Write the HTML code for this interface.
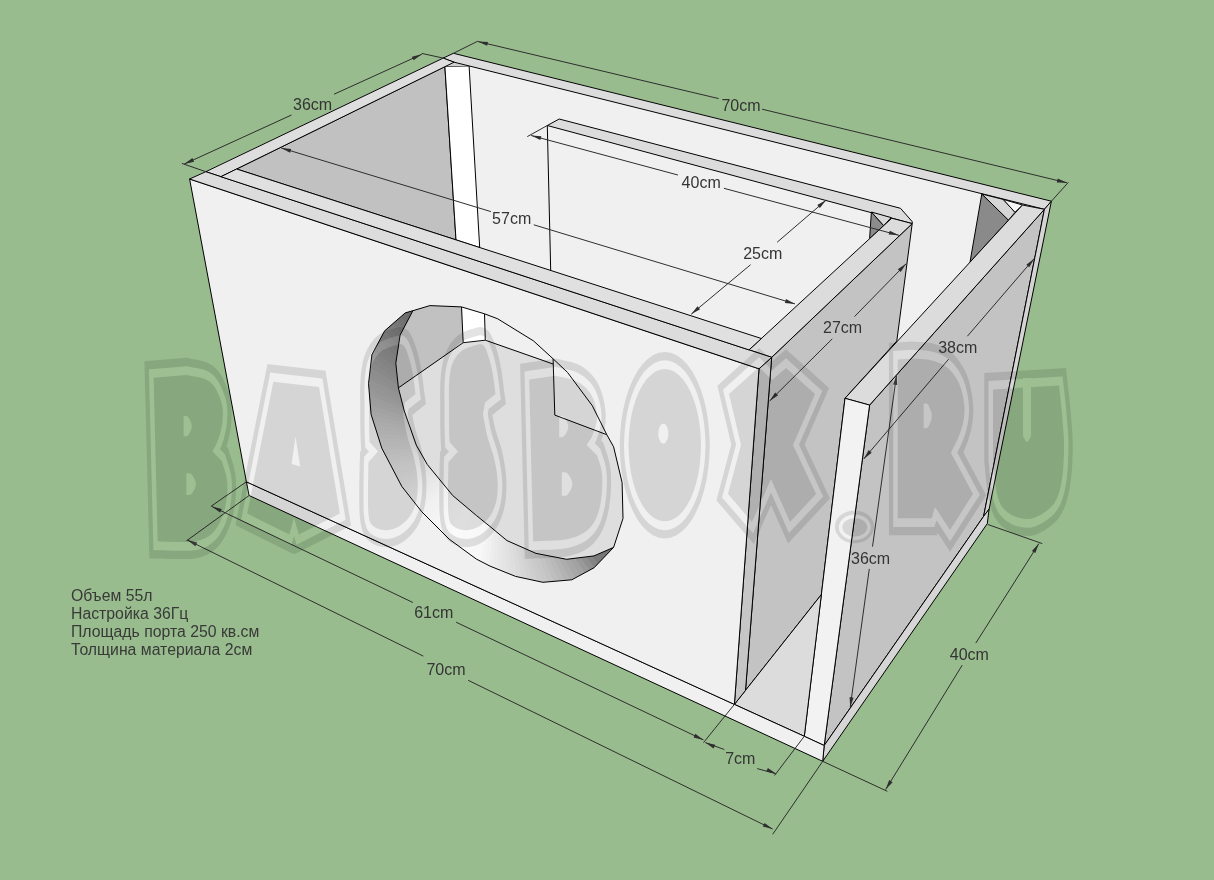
<!DOCTYPE html><html><head><meta charset="utf-8"><style>html,body{margin:0;padding:0;background:#98bc8d;}svg{display:block}</style></head><body>
<svg width="1214" height="880" viewBox="0 0 1214 880">
<rect width="1214" height="880" fill="#98bc8d"/>
<polygon points="443.2,58.1 453.4,53.3 1051.4,201.2 1044.4,209.3 869.6,405.1 759.0,368.8 189.6,179.0" fill="#f0f0f0"  />
<polygon points="236.6,169.0 444.9,66.6 456.0,239.9" fill="#c1c1c1" stroke="#000" stroke-width="1.0" stroke-linejoin="round" />
<polygon points="444.9,66.6 469.1,65.9 479.7,247.6 456.0,239.9" fill="#ffffff" stroke="#000" stroke-width="1.0" stroke-linejoin="round" />
<polygon points="444.9,66.6 452.5,62.0 469.1,65.9" fill="#cfcfcf"  />
<polygon points="443.2,58.1 453.4,53.3 1051.4,201.2 1044.4,209.3 454.1,62.2" fill="#dcdcdc" stroke="#000" stroke-width="1.0" stroke-linejoin="round" />
<polygon points="205.8,171.7 443.2,58.1 454.1,62.2 220.9,176.7" fill="#dedede" stroke="#000" stroke-width="1.0" stroke-linejoin="round" />
<polygon points="547.3,125.5 559.2,119.0 900.5,208.3 912.2,221.6 912.2,223.6 891.8,218.2" fill="#dcdcdc" stroke="#000" stroke-width="1.0" stroke-linejoin="round" />
<line x1="547.3" y1="125.5" x2="550.7" y2="270.6" stroke="#000" stroke-width="1.0"/>
<polygon points="871.4,212.0 883.7,225.6 869.6,238.6" fill="#8c8c8c" stroke="#000" stroke-width="1.0" stroke-linejoin="round" />
<polygon points="871.4,212.0 891.2,217.6 883.7,225.6" fill="#d8d8d8" stroke="#000" stroke-width="1.0" stroke-linejoin="round" />
<polygon points="981.8,194.0 1008.5,220.2 970.0,262.2" fill="#8a8a8a" stroke="#000" stroke-width="1.0" stroke-linejoin="round" />
<polygon points="981.8,194.0 1003.2,199.4 1015.0,212.3 1008.5,220.2" fill="#d6d6d6" stroke="#000" stroke-width="1.0" stroke-linejoin="round" />
<polygon points="1003.2,199.4 1022.5,205.0 1015.0,212.3" fill="#f6f6f6" stroke="#000" stroke-width="1.0" stroke-linejoin="round" />
<polygon points="771.7,357.3 912.2,223.6 896.8,341.0 845.0,398.3 821.4,594.5 745.5,690.4" fill="#c3c3c3" stroke="#000" stroke-width="1.0" stroke-linejoin="round" />
<polygon points="749.0,349.9 891.8,218.2 912.2,223.6 771.7,357.3" fill="#dcdcdc" stroke="#000" stroke-width="1.0" stroke-linejoin="round" />
<polygon points="869.6,405.1 1044.4,209.3 983.6,516.4 824.2,745.5" fill="#c3c3c3" stroke="#000" stroke-width="1.0" stroke-linejoin="round" />
<polygon points="1044.4,209.3 1051.4,201.2 989.1,509.1 983.6,516.4" fill="#d4d4d4" stroke="#000" stroke-width="1.0" stroke-linejoin="round" />
<polygon points="983.6,516.4 989.1,509.1 987.3,523.6 822.7,761.3 824.2,745.5" fill="#d6d6d6" stroke="#000" stroke-width="1.0" stroke-linejoin="round" />
<polygon points="1022.5,205.0 1044.4,209.3 869.6,405.1 845.0,398.3" fill="#dcdcdc" stroke="#000" stroke-width="1.0" stroke-linejoin="round" />
<polygon points="845.0,398.3 869.6,405.1 824.2,745.5 804.3,736.3" fill="#f2f2f2" stroke="#000" stroke-width="1.0" stroke-linejoin="round" />
<polygon points="734.4,704.4 821.4,594.5 804.3,736.3" fill="#dcdcdc" stroke="#000" stroke-width="1.0" stroke-linejoin="round" />
<polygon points="759.0,368.8 771.7,357.3 745.5,690.4 734.4,704.4" fill="#c6c6c6" stroke="#000" stroke-width="1.0" stroke-linejoin="round" />
<polygon points="246.4,481.8 804.3,736.3 824.2,745.5 822.7,761.3 249.1,495.5" fill="#f0f0f0" stroke="#000" stroke-width="1.0" stroke-linejoin="round" />
<polygon points="189.6,179.0 759.0,368.8 734.4,704.4 246.4,481.8" fill="#f0f0f0" stroke="#000" stroke-width="1.0" stroke-linejoin="round" />
<polygon points="189.6,179.0 205.8,171.7 771.7,357.3 759.0,368.8" fill="#dcdcdc" stroke="#000" stroke-width="1.0" stroke-linejoin="round" />
<polygon points="220.9,176.7 236.6,169.0 761.4,338.5 749.0,349.9" fill="#e0e0e0" stroke="#000" stroke-width="1.0" stroke-linejoin="round" />
<defs><clipPath id="hc"><polygon points="429.9,305.6 461.5,306.9 484.5,313.8 497.7,318.8 533.5,340.9 553.1,358.8 567.6,372.5 592.3,405.7 606.8,434.7 613.6,446.8 622.1,482.6 623.0,518.4 613.6,547.4 594.0,567.8 571.8,579.8 542.8,582.3 515.6,576.4 490.0,566.1 476.4,559.1 449.1,539.1 421.8,511.8 401.8,486.4 381.8,448.2 371.1,414.4 368.5,383.7 371.9,354.7 384.7,330.8 405.2,312.9 412.9,310.7"/></clipPath>
</defs>
<g clip-path="url(#hc)">
<rect x="360" y="300" width="270" height="290" fill="#dedede"/>
<polygon points="360.0,290.0 461.5,290.0 463.2,342.7 398.4,387.9 360.0,400.0" fill="#c1c1c1"  />
<polygon points="484.5,290.0 640.0,290.0 640.0,440.0 606.8,434.7 554.8,415.1 553.1,364.0 485.3,340.2" fill="#f0f0f0"  />
<polygon points="461.5,290.0 484.5,290.0 485.3,340.2 463.2,342.7" fill="#ffffff"  />
<line x1="398.4" y1="387.9" x2="463.2" y2="342.7" stroke="#000" stroke-width="1.0"/>
<line x1="463.2" y1="342.7" x2="485.3" y2="340.2" stroke="#000" stroke-width="1.0"/>
<line x1="485.3" y1="340.2" x2="553.1" y2="364.0" stroke="#000" stroke-width="1.0"/>
<line x1="461.5" y1="306.9" x2="463.2" y2="342.7" stroke="#000" stroke-width="1.0"/>
<line x1="484.5" y1="313.8" x2="485.3" y2="340.2" stroke="#000" stroke-width="1.0"/>
<line x1="553.1" y1="358.8" x2="554.8" y2="415.1" stroke="#000" stroke-width="1.0"/>
<line x1="554.8" y1="415.1" x2="606.8" y2="434.7" stroke="#000" stroke-width="1.0"/>
</g>
<defs><clipPath id="ringc"><polygon points="412.9,310.7 405.2,312.9 384.7,330.8 371.9,354.7 368.5,383.7 371.1,414.4 381.8,448.2 401.8,486.4 421.8,511.8 449.1,539.1 476.4,559.1 490.0,566.1 515.6,576.4 542.8,582.3 571.8,579.8 594.0,567.8 613.6,547.4 613.6,547.4 594.0,555.9 566.7,559.3 536.0,553.4 507.0,540.6 490.0,526.5 476.4,515.5 452.7,495.5 427.3,464.5 416.3,445.1 404.3,411.0 398.4,387.9 395.8,363.2 400.1,335.1 412.9,310.7"/></clipPath></defs>
<g clip-path="url(#ringc)">
<polygon points="497.0,445.0 714.1,588.1 705.7,600.0" fill="#6c6c6c"/>
<polygon points="497.0,445.0 708.9,595.6 700.2,607.2" fill="#6d6d6d"/>
<polygon points="497.0,445.0 703.5,602.9 694.4,614.2" fill="#6f6f6f"/>
<polygon points="497.0,445.0 697.9,610.0 688.4,621.0" fill="#707070"/>
<polygon points="497.0,445.0 692.0,616.9 682.1,627.6" fill="#727272"/>
<polygon points="497.0,445.0 685.9,623.6 675.6,633.9" fill="#757575"/>
<polygon points="497.0,445.0 679.6,630.1 668.9,640.0" fill="#777777"/>
<polygon points="497.0,445.0 673.0,636.4 662.0,645.9" fill="#7a7a7a"/>
<polygon points="497.0,445.0 666.2,642.4 654.9,651.5" fill="#848484"/>
<polygon points="497.0,445.0 659.2,648.2 647.6,656.9" fill="#8f8f8f"/>
<polygon points="497.0,445.0 652.0,653.7 640.1,662.1" fill="#999999"/>
<polygon points="497.0,445.0 644.6,659.0 632.5,666.9" fill="#a2a2a2"/>
<polygon points="497.0,445.0 637.1,664.0 624.6,671.5" fill="#a7a7a7"/>
<polygon points="497.0,445.0 629.4,668.8 616.7,675.8" fill="#adadad"/>
<polygon points="497.0,445.0 621.5,673.3 608.5,679.9" fill="#b3b3b3"/>
<polygon points="497.0,445.0 613.4,677.5 600.3,683.6" fill="#b9b9b9"/>
<polygon points="497.0,445.0 605.2,681.4 591.9,687.1" fill="#bebebe"/>
<polygon points="497.0,445.0 596.9,685.0 583.4,690.2" fill="#c3c3c3"/>
<polygon points="497.0,445.0 588.5,688.4 574.8,693.1" fill="#c7c7c7"/>
<polygon points="497.0,445.0 579.9,691.4 566.0,695.7" fill="#cacaca"/>
<polygon points="497.0,445.0 571.3,694.2 557.3,697.9" fill="#cecece"/>
<polygon points="497.0,445.0 562.5,696.6 548.4,699.9" fill="#d2d2d2"/>
<polygon points="497.0,445.0 553.7,698.7 539.5,701.5" fill="#d6d6d6"/>
<polygon points="497.0,445.0 544.8,700.6 530.5,702.8" fill="#dadada"/>
<polygon points="497.0,445.0 535.9,702.1 521.5,703.8" fill="#dedede"/>
<polygon points="497.0,445.0 526.9,703.3 512.4,704.5" fill="#e1e1e1"/>
<polygon points="497.0,445.0 517.9,704.2 503.4,704.9" fill="#e4e4e4"/>
<polygon points="497.0,445.0 508.8,704.7 494.3,705.0" fill="#e7e7e7"/>
<polygon points="497.0,445.0 499.7,705.0 485.2,704.7" fill="#eaeaea"/>
<polygon points="497.0,445.0 490.6,704.9 476.1,704.2" fill="#ededed"/>
<polygon points="497.0,445.0 481.6,704.5 467.1,703.3" fill="#f1f1f1"/>
<polygon points="497.0,445.0 472.5,703.8 458.1,702.1" fill="#f4f4f4"/>
<polygon points="497.0,445.0 463.5,702.8 449.2,700.6" fill="#f7f7f7"/>
<polygon points="497.0,445.0 454.5,701.5 440.3,698.7" fill="#f8f8f8"/>
<polygon points="497.0,445.0 445.6,699.9 431.5,696.6" fill="#f8f8f8"/>
<polygon points="497.0,445.0 436.7,697.9 422.7,694.2" fill="#f9f9f9"/>
<polygon points="497.0,445.0 428.0,695.7 414.1,691.4" fill="#f9f9f9"/>
<polygon points="497.0,445.0 419.2,693.1 405.5,688.4" fill="#f9f9f9"/>
<polygon points="497.0,445.0 410.6,690.2 397.1,685.0" fill="#f9f9f9"/>
<polygon points="497.0,445.0 402.1,687.1 388.8,681.4" fill="#fafafa"/>
<polygon points="497.0,445.0 393.7,683.6 380.6,677.5" fill="#fafafa"/>
<polygon points="497.0,445.0 385.5,679.9 372.5,673.3" fill="#fafafa"/>
<polygon points="497.0,445.0 377.3,675.8 364.6,668.8" fill="#f9f9f9"/>
<polygon points="497.0,445.0 369.4,671.5 356.9,664.0" fill="#f8f8f8"/>
<polygon points="497.0,445.0 361.5,666.9 349.4,659.0" fill="#f7f7f7"/>
<polygon points="497.0,445.0 353.9,662.1 342.0,653.7" fill="#f6f6f6"/>
<polygon points="497.0,445.0 346.4,656.9 334.8,648.2" fill="#f6f6f6"/>
<polygon points="497.0,445.0 339.1,651.5 327.8,642.4" fill="#f5f5f5"/>
<polygon points="497.0,445.0 332.0,645.9 321.0,636.4" fill="#f4f4f4"/>
<polygon points="497.0,445.0 325.1,640.0 314.4,630.1" fill="#f3f3f3"/>
<polygon points="497.0,445.0 318.4,633.9 308.1,623.6" fill="#f2f2f2"/>
<polygon points="497.0,445.0 311.9,627.6 302.0,616.9" fill="#f1f1f1"/>
<polygon points="497.0,445.0 305.6,621.0 296.1,610.0" fill="#f1f1f1"/>
<polygon points="497.0,445.0 299.6,614.2 290.5,602.9" fill="#f0f0f0"/>
<polygon points="497.0,445.0 293.8,607.2 285.1,595.6" fill="#eeeeee"/>
<polygon points="497.0,445.0 288.3,600.0 279.9,588.1" fill="#ededed"/>
<polygon points="497.0,445.0 283.0,592.6 275.1,580.5" fill="#ebebeb"/>
<polygon points="497.0,445.0 278.0,585.1 270.5,572.6" fill="#eaeaea"/>
<polygon points="497.0,445.0 273.2,577.4 266.2,564.7" fill="#e8e8e8"/>
<polygon points="497.0,445.0 268.7,569.5 262.1,556.5" fill="#e7e7e7"/>
<polygon points="497.0,445.0 264.5,561.4 258.4,548.3" fill="#e5e5e5"/>
<polygon points="497.0,445.0 260.6,553.2 254.9,539.9" fill="#e3e3e3"/>
<polygon points="497.0,445.0 257.0,544.9 251.8,531.4" fill="#e2e2e2"/>
<polygon points="497.0,445.0 253.6,536.5 248.9,522.8" fill="#e0e0e0"/>
<polygon points="497.0,445.0 250.6,527.9 246.3,514.0" fill="#dfdfdf"/>
<polygon points="497.0,445.0 247.8,519.3 244.1,505.3" fill="#dddddd"/>
<polygon points="497.0,445.0 245.4,510.5 242.1,496.4" fill="#dcdcdc"/>
<polygon points="497.0,445.0 243.3,501.7 240.5,487.5" fill="#dadada"/>
<polygon points="497.0,445.0 241.4,492.8 239.2,478.5" fill="#d8d8d8"/>
<polygon points="497.0,445.0 239.9,483.9 238.2,469.5" fill="#d6d6d6"/>
<polygon points="497.0,445.0 238.7,474.9 237.5,460.4" fill="#d3d3d3"/>
<polygon points="497.0,445.0 237.8,465.9 237.1,451.4" fill="#d1d1d1"/>
<polygon points="497.0,445.0 237.3,456.8 237.0,442.3" fill="#cecece"/>
<polygon points="497.0,445.0 237.0,447.7 237.3,433.2" fill="#cccccc"/>
<polygon points="497.0,445.0 237.1,438.6 237.8,424.1" fill="#cacaca"/>
<polygon points="497.0,445.0 237.5,429.6 238.7,415.1" fill="#c7c7c7"/>
<polygon points="497.0,445.0 238.2,420.5 239.9,406.1" fill="#c5c5c5"/>
<polygon points="497.0,445.0 239.2,411.5 241.4,397.2" fill="#c2c2c2"/>
<polygon points="497.0,445.0 240.5,402.5 243.3,388.3" fill="#c0c0c0"/>
<polygon points="497.0,445.0 242.1,393.6 245.4,379.5" fill="#bdbdbd"/>
<polygon points="497.0,445.0 244.1,384.7 247.8,370.7" fill="#b9b9b9"/>
<polygon points="497.0,445.0 246.3,376.0 250.6,362.1" fill="#b6b6b6"/>
<polygon points="497.0,445.0 248.9,367.2 253.6,353.5" fill="#b2b2b2"/>
<polygon points="497.0,445.0 251.8,358.6 257.0,345.1" fill="#afafaf"/>
<polygon points="497.0,445.0 254.9,350.1 260.6,336.8" fill="#ababab"/>
<polygon points="497.0,445.0 258.4,341.7 264.5,328.6" fill="#a8a8a8"/>
<polygon points="497.0,445.0 262.1,333.5 268.7,320.5" fill="#a5a5a5"/>
<polygon points="497.0,445.0 266.2,325.3 273.2,312.6" fill="#a1a1a1"/>
<polygon points="497.0,445.0 270.5,317.4 278.0,304.9" fill="#9e9e9e"/>
<polygon points="497.0,445.0 275.1,309.5 283.0,297.4" fill="#9a9a9a"/>
<polygon points="497.0,445.0 279.9,301.9 288.3,290.0" fill="#969696"/>
<polygon points="497.0,445.0 285.1,294.4 293.8,282.8" fill="#939393"/>
<polygon points="497.0,445.0 290.5,287.1 299.6,275.8" fill="#8f8f8f"/>
<polygon points="497.0,445.0 296.1,280.0 305.6,269.0" fill="#8c8c8c"/>
<polygon points="497.0,445.0 302.0,273.1 311.9,262.4" fill="#888888"/>
<polygon points="497.0,445.0 308.1,266.4 318.4,256.1" fill="#848484"/>
<polygon points="497.0,445.0 314.4,259.9 325.1,250.0" fill="#7f7f7f"/>
<polygon points="497.0,445.0 321.0,253.6 332.0,244.1" fill="#7b7b7b"/>
<polygon points="497.0,445.0 327.8,247.6 339.1,238.5" fill="#767676"/>
<polygon points="497.0,445.0 334.8,241.8 346.4,233.1" fill="#727272"/>
<polygon points="497.0,445.0 342.0,236.3 353.9,227.9" fill="#6d6d6d"/>
<polygon points="497.0,445.0 349.4,231.0 361.5,223.1" fill="#6b6b6b"/>
<polygon points="497.0,445.0 356.9,226.0 369.4,218.5" fill="#6b6b6b"/>
<polygon points="497.0,445.0 364.6,221.2 377.3,214.2" fill="#6a6a6a"/>
<polygon points="497.0,445.0 372.5,216.7 385.5,210.1" fill="#696969"/>
<polygon points="497.0,445.0 380.6,212.5 393.7,206.4" fill="#686868"/>
<polygon points="497.0,445.0 388.8,208.6 402.1,202.9" fill="#676767"/>
<polygon points="497.0,445.0 397.1,205.0 410.6,199.8" fill="#666666"/>
</g>
<polyline points="412.9,310.7 400.1,335.1 395.8,363.2 398.4,387.9 404.3,411.0 416.3,445.1 427.3,464.5 452.7,495.5 476.4,515.5 490.0,526.5 507.0,540.6 536.0,553.4 566.7,559.3 594.0,555.9 613.6,547.4" fill="none" stroke="#000" stroke-width="1.0" stroke-linejoin="round"/>
<polygon points="429.9,305.6 461.5,306.9 484.5,313.8 497.7,318.8 533.5,340.9 553.1,358.8 567.6,372.5 592.3,405.7 606.8,434.7 613.6,446.8 622.1,482.6 623.0,518.4 613.6,547.4 594.0,567.8 571.8,579.8 542.8,582.3 515.6,576.4 490.0,566.1 476.4,559.1 449.1,539.1 421.8,511.8 401.8,486.4 381.8,448.2 371.1,414.4 368.5,383.7 371.9,354.7 384.7,330.8 405.2,312.9 412.9,310.7" fill="none" stroke="#000" stroke-width="1.0" stroke-linejoin="round"/>
<line x1="184.2" y1="164.1" x2="291.5" y2="115.0" stroke="#2e2e2e" stroke-width="1"/>
<line x1="334.1" y1="94.2" x2="421.8" y2="54.3" stroke="#2e2e2e" stroke-width="1"/>
<polygon points="184.2,164.1 194.1,161.7 192.4,158.1" fill="#2e2e2e"/>
<polygon points="421.8,54.3 411.9,56.7 413.6,60.3" fill="#2e2e2e"/>
<line x1="181.9" y1="163.4" x2="205.8" y2="171.7" stroke="#2e2e2e" stroke-width="1"/>
<line x1="421.8" y1="53.4" x2="443.2" y2="58.1" stroke="#2e2e2e" stroke-width="1"/>
<text x="293.0" y="109.7" font-family="Liberation Sans" font-size="16" fill="#333" opacity="0.99">36cm</text>
<line x1="477.8" y1="41.5" x2="718.7" y2="98.6" stroke="#2e2e2e" stroke-width="1"/>
<line x1="762.1" y1="109.2" x2="1067.0" y2="182.8" stroke="#2e2e2e" stroke-width="1"/>
<polygon points="477.8,41.5 487.1,45.8 488.0,41.9" fill="#2e2e2e"/>
<polygon points="1067.0,182.8 1057.7,178.5 1056.8,182.4" fill="#2e2e2e"/>
<line x1="453.4" y1="53.3" x2="477.8" y2="41.2" stroke="#2e2e2e" stroke-width="1"/>
<line x1="1051.4" y1="201.2" x2="1068.4" y2="182.3" stroke="#2e2e2e" stroke-width="1"/>
<text x="721.4" y="110.9" font-family="Liberation Sans" font-size="16" fill="#333" opacity="0.99">70cm</text>
<line x1="281.1" y1="147.9" x2="490.9" y2="211.6" stroke="#2e2e2e" stroke-width="1"/>
<line x1="533.8" y1="224.8" x2="795.0" y2="303.9" stroke="#2e2e2e" stroke-width="1"/>
<polygon points="281.1,147.9 290.1,152.7 291.2,148.9" fill="#2e2e2e"/>
<polygon points="795.0,303.9 786.0,299.1 784.9,302.9" fill="#2e2e2e"/>
<text x="492.1" y="223.8" font-family="Liberation Sans" font-size="16" fill="#333" opacity="0.99">57cm</text>
<line x1="531.2" y1="135.5" x2="677.9" y2="175.0" stroke="#2e2e2e" stroke-width="1"/>
<line x1="723.9" y1="188.3" x2="898.9" y2="235.3" stroke="#2e2e2e" stroke-width="1"/>
<polygon points="531.2,135.5 540.3,140.0 541.4,136.2" fill="#2e2e2e"/>
<polygon points="898.9,235.3 889.8,230.8 888.7,234.6" fill="#2e2e2e"/>
<line x1="547.3" y1="125.5" x2="527.3" y2="136.6" stroke="#2e2e2e" stroke-width="1"/>
<text x="681.6" y="187.5" font-family="Liberation Sans" font-size="16" fill="#333" opacity="0.99">40cm</text>
<line x1="691.2" y1="314.2" x2="750.6" y2="264.7" stroke="#2e2e2e" stroke-width="1"/>
<line x1="777.2" y1="242.2" x2="826.2" y2="200.1" stroke="#2e2e2e" stroke-width="1"/>
<polygon points="691.2,314.2 700.1,309.3 697.5,306.2" fill="#2e2e2e"/>
<polygon points="826.2,200.1 817.3,205.0 819.9,208.1" fill="#2e2e2e"/>
<text x="743.2" y="258.9" font-family="Liberation Sans" font-size="16" fill="#333" opacity="0.99">25cm</text>
<line x1="769.6" y1="401.0" x2="832.3" y2="338.8" stroke="#2e2e2e" stroke-width="1"/>
<line x1="854.5" y1="316.6" x2="906.3" y2="263.6" stroke="#2e2e2e" stroke-width="1"/>
<polygon points="769.6,401.0 778.1,395.3 775.2,392.5" fill="#2e2e2e"/>
<polygon points="906.3,263.6 897.8,269.3 900.7,272.1" fill="#2e2e2e"/>
<text x="823.0" y="332.9" font-family="Liberation Sans" font-size="16" fill="#333" opacity="0.99">27cm</text>
<line x1="863.7" y1="459.0" x2="948.6" y2="359.2" stroke="#2e2e2e" stroke-width="1"/>
<line x1="967.4" y1="336.2" x2="1034.3" y2="258.4" stroke="#2e2e2e" stroke-width="1"/>
<polygon points="863.7,459.0 871.7,452.7 868.7,450.1" fill="#2e2e2e"/>
<polygon points="1034.3,258.4 1026.3,264.7 1029.3,267.3" fill="#2e2e2e"/>
<text x="938.2" y="352.9" font-family="Liberation Sans" font-size="16" fill="#333" opacity="0.99">38cm</text>
<line x1="896.6" y1="374.8" x2="872.5" y2="546.6" stroke="#2e2e2e" stroke-width="1"/>
<line x1="869.3" y1="568.9" x2="850.2" y2="707.3" stroke="#2e2e2e" stroke-width="1"/>
<polygon points="896.6,374.8 893.2,384.4 897.2,385.0" fill="#2e2e2e"/>
<polygon points="850.2,707.3 853.6,697.7 849.6,697.1" fill="#2e2e2e"/>
<text x="851.0" y="563.9" font-family="Liberation Sans" font-size="16" fill="#333" opacity="0.99">36cm</text>
<line x1="1038.9" y1="543.6" x2="975.8" y2="643.1" stroke="#2e2e2e" stroke-width="1"/>
<line x1="962.2" y1="665.2" x2="885.6" y2="789.6" stroke="#2e2e2e" stroke-width="1"/>
<polygon points="1038.9,543.6 1031.9,551.0 1035.3,553.1" fill="#2e2e2e"/>
<polygon points="885.6,789.6 892.6,782.2 889.2,780.1" fill="#2e2e2e"/>
<line x1="987.8" y1="524.5" x2="1042.3" y2="543.6" stroke="#2e2e2e" stroke-width="1"/>
<line x1="822.7" y1="761.3" x2="887.3" y2="791.3" stroke="#2e2e2e" stroke-width="1"/>
<text x="949.8" y="659.5" font-family="Liberation Sans" font-size="16" fill="#333" opacity="0.99">40cm</text>
<line x1="211.8" y1="506.4" x2="412.9" y2="602.5" stroke="#2e2e2e" stroke-width="1"/>
<line x1="456.1" y1="622.2" x2="703.5" y2="739.9" stroke="#2e2e2e" stroke-width="1"/>
<polygon points="211.8,506.4 220.0,512.5 221.7,508.9" fill="#2e2e2e"/>
<polygon points="703.5,739.9 695.3,733.8 693.6,737.4" fill="#2e2e2e"/>
<line x1="246.4" y1="481.8" x2="210.9" y2="506.4" stroke="#2e2e2e" stroke-width="1"/>
<line x1="734.4" y1="704.4" x2="703.5" y2="742.6" stroke="#2e2e2e" stroke-width="1"/>
<text x="414.2" y="617.5" font-family="Liberation Sans" font-size="16" fill="#333" opacity="0.99">61cm</text>
<line x1="187.3" y1="540.0" x2="423.3" y2="656.1" stroke="#2e2e2e" stroke-width="1"/>
<line x1="468.2" y1="680.3" x2="772.7" y2="829.1" stroke="#2e2e2e" stroke-width="1"/>
<polygon points="187.3,540.0 195.4,546.2 197.2,542.6" fill="#2e2e2e"/>
<polygon points="772.7,829.1 764.6,822.9 762.8,826.5" fill="#2e2e2e"/>
<line x1="249.1" y1="495.5" x2="186.4" y2="540.9" stroke="#2e2e2e" stroke-width="1"/>
<line x1="822.7" y1="761.3" x2="772.7" y2="834.3" stroke="#2e2e2e" stroke-width="1"/>
<text x="426.4" y="674.5" font-family="Liberation Sans" font-size="16" fill="#333" opacity="0.99">70cm</text>
<line x1="705.3" y1="742.6" x2="724.3" y2="749.5" stroke="#2e2e2e" stroke-width="1"/>
<line x1="757.2" y1="768.6" x2="776.2" y2="773.8" stroke="#2e2e2e" stroke-width="1"/>
<polygon points="705.3,742.6 713.6,748.5 715.3,744.8" fill="#2e2e2e"/>
<polygon points="776.2,773.8 767.9,767.9 766.2,771.6" fill="#2e2e2e"/>
<line x1="804.3" y1="736.3" x2="774.5" y2="775.5" stroke="#2e2e2e" stroke-width="1"/>
<text x="725.2" y="763.5" font-family="Liberation Sans" font-size="16" fill="#333" opacity="0.99">7cm</text>
<text x="71" y="601.0" font-family="Liberation Sans" font-size="15.8" fill="#383838" opacity="0.99">Объем 55л</text>
<text x="71" y="619.0" font-family="Liberation Sans" font-size="15.8" fill="#383838" opacity="0.99">Настройка 36Гц</text>
<text x="71" y="637.0" font-family="Liberation Sans" font-size="15.8" fill="#383838" opacity="0.99">Площадь порта 250 кв.см</text>
<text x="71" y="655.0" font-family="Liberation Sans" font-size="15.8" fill="#383838" opacity="0.99">Толщина материала 2см</text>
<defs>
<g id="wmL" transform="translate(0,450.0) scale(1,1.95) translate(0,-450.0)"><path d="M153.6,412.9 L186.4,411.5 L189.0,411.8 L192.8,412.2 L197.2,412.6 L201.8,413.1 L206.1,413.9 L209.5,414.9 L212.2,416.1 L214.6,417.7 L216.6,419.4 L218.3,421.3 L219.8,423.1 L221.0,424.8 L221.9,426.5 L222.5,428.1 L222.8,429.7 L222.9,431.4 L222.8,433.0 L222.6,434.6 L222.3,436.3 L221.7,438.0 L221.0,439.7 L220.2,441.4 L219.3,443.0 L218.4,444.4 L217.4,445.7 L216.3,447.0 L215.1,448.2 L214.0,449.2 L213.0,450.1 L212.3,450.7 L221.8,455.6 L222.5,456.8 L223.5,458.4 L224.7,460.3 L225.9,462.4 L226.8,464.6 L227.3,466.8 L227.4,469.0 L227.3,471.3 L226.9,473.8 L226.3,476.2 L225.5,478.6 L224.5,480.8 L223.2,482.9 L221.8,484.9 L220.1,486.9 L218.1,488.8 L216.0,490.5 L213.6,491.9 L211.1,493.2 L208.5,494.2 L205.7,495.1 L202.5,495.8 L198.8,496.4 L194.5,496.9 L189.0,497.2 L182.2,497.2 L174.9,497.2 L167.9,497.1 L161.9,496.9 L157.7,496.9Z"/><path d="M529.2,413.9 L555.3,411.9 L557.8,412.2 L561.4,412.6 L565.5,413.0 L569.9,413.6 L574.0,414.2 L577.5,415.0 L580.4,415.9 L583.1,416.9 L585.5,418.0 L587.8,419.2 L589.8,420.5 L591.5,421.9 L593.0,423.5 L594.3,425.3 L595.4,427.2 L596.2,429.1 L596.7,430.9 L597.0,432.7 L596.9,434.4 L596.4,436.0 L595.6,437.7 L594.7,439.3 L593.7,440.7 L592.8,442.1 L591.8,443.2 L590.7,444.3 L589.4,445.3 L588.3,446.2 L587.3,446.9 L586.6,447.4 L597.1,452.8 L597.8,453.9 L598.7,455.4 L599.9,457.1 L601.0,459.1 L601.8,461.3 L602.3,463.5 L602.4,465.9 L602.3,468.6 L602.0,471.5 L601.4,474.4 L600.7,477.1 L599.7,479.5 L598.5,481.7 L597.2,483.7 L595.6,485.6 L593.8,487.3 L591.6,488.8 L589.2,490.3 L586.5,491.5 L583.5,492.6 L580.3,493.5 L576.7,494.3 L572.7,495.0 L568.3,495.6 L562.9,496.1 L556.3,496.4 L549.4,496.6 L542.8,496.7 L537.1,496.8 L533.1,496.9Z"/><path d="M273.3,415.0 L319.0,417.7 L339.9,482.6 L298.8,493.3 L294.0,484.6 L289.3,493.3 L247.2,482.6Z"/><path d="M449.0,426.9 L449.0,425.8 L448.9,424.2 L448.9,422.3 L448.9,420.4 L448.9,418.4 L449.0,416.7 L449.2,415.1 L449.4,413.5 L449.7,412.0 L450.0,410.6 L450.5,409.2 L451.0,407.9 L451.6,406.8 L452.4,405.8 L453.2,404.8 L454.1,403.9 L455.0,403.1 L456.0,402.3 L457.0,401.6 L458.1,400.9 L459.2,400.3 L460.4,399.7 L461.6,399.2 L463.0,398.7 L464.5,398.3 L466.1,397.9 L467.8,397.5 L469.6,397.2 L471.3,396.9 L473.0,396.7 L474.7,396.4 L476.5,396.1 L478.2,395.9 L480.0,395.7 L481.6,395.8 L483.0,396.2 L484.3,396.8 L485.4,397.8 L486.4,398.9 L487.3,400.2 L488.2,401.5 L489.0,402.8 L489.8,404.1 L490.5,405.5 L491.2,407.0 L491.9,408.5 L492.4,410.0 L493.0,411.5 L493.5,413.2 L494.0,415.1 L494.5,417.0 L494.9,418.7 L495.2,420.2 L495.5,421.3 L485.0,425.6 L483.0,431.5 L483.4,432.7 L483.9,434.3 L484.6,436.2 L485.3,438.2 L486.1,440.3 L487.0,442.3 L488.0,444.2 L489.2,446.2 L490.5,448.2 L491.8,450.2 L493.0,452.2 L494.0,454.1 L494.8,456.0 L495.6,457.9 L496.2,459.8 L496.8,461.7 L497.2,463.6 L497.5,465.4 L497.7,467.2 L497.7,469.0 L497.6,470.7 L497.4,472.4 L497.0,474.1 L496.5,475.6 L495.8,477.2 L494.9,478.6 L493.9,480.0 L492.8,481.4 L491.5,482.7 L490.0,483.8 L488.3,485.0 L486.5,486.1 L484.5,487.1 L482.4,488.0 L480.2,488.8 L478.0,489.5 L475.8,490.0 L473.4,490.5 L471.0,490.8 L468.6,491.0 L466.2,491.1 L464.0,491.0 L461.8,490.9 L459.5,490.6 L457.3,490.2 L455.3,489.7 L453.5,489.1 L452.0,488.5 L450.9,487.8 L450.1,487.1 L449.5,486.2 L449.1,485.3 L448.8,484.2 L448.5,482.8 L448.2,481.2 L448.1,479.3 L448.0,477.2 L448.0,475.0 L448.0,472.8 L448.0,470.5 L448.0,468.1 L448.1,465.3 L448.2,462.6 L448.3,460.0 L448.4,457.7 L448.5,456.2 L458.0,450.8 L449.5,445.9 L449.4,445.0 L449.4,443.7 L449.2,442.2 L449.1,440.5 L449.1,438.8 L449.0,437.2 L449.0,435.4 L449.0,433.5 L449.0,431.5 L449.0,429.6 L449.0,428.1 L449.0,426.9Z"/><path d="M369.0,426.9 L369.0,425.8 L368.9,424.2 L368.9,422.3 L368.9,420.4 L368.9,418.4 L369.0,416.7 L369.2,415.1 L369.4,413.5 L369.7,412.0 L370.0,410.6 L370.5,409.2 L371.0,407.9 L371.6,406.8 L372.4,405.8 L373.2,404.8 L374.1,403.9 L375.0,403.1 L376.0,402.3 L377.0,401.6 L378.1,400.9 L379.2,400.3 L380.4,399.7 L381.6,399.2 L383.0,398.7 L384.5,398.3 L386.1,397.9 L387.8,397.5 L389.6,397.2 L391.3,396.9 L393.0,396.7 L394.7,396.4 L396.5,396.1 L398.2,395.9 L400.0,395.7 L401.6,395.8 L403.0,396.2 L404.3,396.8 L405.4,397.8 L406.4,398.9 L407.3,400.2 L408.2,401.5 L409.0,402.8 L409.8,404.1 L410.5,405.5 L411.2,407.0 L411.9,408.5 L412.4,410.0 L413.0,411.5 L413.5,413.2 L414.0,415.1 L414.5,417.0 L414.9,418.7 L415.2,420.2 L415.5,421.3 L405.0,425.6 L403.0,431.5 L403.4,432.7 L403.9,434.3 L404.6,436.2 L405.3,438.2 L406.1,440.3 L407.0,442.3 L408.0,444.2 L409.2,446.2 L410.5,448.2 L411.8,450.2 L413.0,452.2 L414.0,454.1 L414.8,456.0 L415.6,457.9 L416.2,459.8 L416.8,461.7 L417.2,463.6 L417.5,465.4 L417.7,467.2 L417.7,469.0 L417.6,470.7 L417.4,472.4 L417.0,474.1 L416.5,475.6 L415.8,477.2 L414.9,478.6 L413.9,480.0 L412.8,481.4 L411.5,482.7 L410.0,483.8 L408.3,485.0 L406.5,486.1 L404.5,487.1 L402.4,488.0 L400.2,488.8 L398.0,489.5 L395.8,490.0 L393.4,490.5 L391.0,490.8 L388.6,491.0 L386.2,491.1 L384.0,491.0 L381.8,490.9 L379.5,490.6 L377.3,490.2 L375.3,489.7 L373.5,489.1 L372.0,488.5 L370.9,487.8 L370.1,487.1 L369.5,486.2 L369.1,485.3 L368.8,484.2 L368.5,482.8 L368.2,481.2 L368.1,479.3 L368.0,477.2 L368.0,475.0 L368.0,472.8 L368.0,470.5 L368.0,468.1 L368.1,465.3 L368.2,462.6 L368.3,460.0 L368.4,457.7 L368.5,456.2 L378.0,450.8 L369.5,445.9 L369.4,445.0 L369.4,443.7 L369.2,442.2 L369.1,440.5 L369.1,438.8 L369.0,437.2 L369.0,435.4 L369.0,433.5 L369.0,431.5 L369.0,429.6 L369.0,428.1 L369.0,426.9Z"/><path d="M701.0,447.6 L700.6,452.7 L699.7,457.7 L698.2,462.5 L696.1,467.1 L693.5,471.4 L690.3,475.2 L686.8,478.6 L682.9,481.4 L678.6,483.7 L674.1,485.3 L669.5,486.3 L664.8,486.6 L660.0,486.3 L655.4,485.3 L650.9,483.7 L646.6,481.4 L642.7,478.6 L639.2,475.2 L636.0,471.4 L633.4,467.1 L631.3,462.5 L629.8,457.7 L628.9,452.7 L628.5,447.6 L628.9,442.5 L629.8,437.5 L631.3,432.6 L633.4,428.0 L636.0,423.8 L639.2,419.9 L642.7,416.6 L646.6,413.7 L650.9,411.5 L655.4,409.8 L660.0,408.8 L664.8,408.5 L669.5,408.8 L674.1,409.8 L678.6,411.5 L682.9,413.7 L686.8,416.6 L690.3,419.9 L693.5,423.8 L696.1,428.0 L698.2,432.6 L699.7,437.5 L700.6,442.5Z"/><path d="M729.0,421.3 L759.0,407.4 L772.0,414.1 L786.0,407.9 L815.0,421.3 L793.0,447.4 L816.0,472.6 L790.0,486.9 L771.0,464.9 L752.0,486.9 L728.0,472.6 L741.0,447.4Z"/><path d="M897.7,485.0 L897.7,403.6 L912.0,403.1 L914.0,403.2 L916.8,403.2 L920.1,403.3 L923.6,403.4 L927.0,403.6 L930.0,403.8 L932.7,404.2 L935.4,404.6 L938.0,405.1 L940.4,405.6 L942.8,406.2 L945.0,406.9 L947.1,407.7 L949.0,408.5 L950.8,409.5 L952.5,410.4 L954.0,411.5 L955.5,412.6 L956.9,413.7 L958.1,414.9 L959.2,416.1 L960.3,417.4 L961.2,418.8 L962.0,420.3 L962.7,421.8 L963.4,423.5 L963.9,425.2 L964.3,426.9 L964.5,428.7 L964.5,430.4 L964.3,432.1 L963.9,433.8 L963.3,435.6 L962.5,437.3 L961.6,439.0 L960.5,440.8 L959.1,442.6 L957.4,444.7 L955.5,446.7 L953.6,448.6 L952.0,450.2 L950.9,451.4 L973.0,472.6 L950.0,491.0 L935.0,479.2 L931.8,485.0Z"/><path d="M993.0,455.1 L993.0,419.0 L1059.0,416.9 L1059.4,418.8 L1060.0,421.6 L1060.7,424.8 L1061.4,428.2 L1062.0,431.6 L1062.5,434.6 L1062.9,437.3 L1063.3,439.8 L1063.7,442.3 L1063.9,444.8 L1064.0,447.3 L1064.0,450.0 L1063.8,452.9 L1063.6,456.1 L1063.2,459.3 L1062.6,462.4 L1061.9,465.3 L1061.0,467.9 L1060.0,470.2 L1058.9,472.2 L1057.6,474.1 L1056.1,475.7 L1054.3,477.3 L1052.0,478.7 L1049.2,480.1 L1045.9,481.5 L1042.2,482.8 L1038.4,483.8 L1034.6,484.7 L1031.0,485.2 L1027.4,485.4 L1023.7,485.3 L1019.9,484.9 L1016.3,484.4 L1013.0,483.7 L1010.0,482.8 L1007.4,481.9 L1005.1,480.9 L1003.0,479.8 L1001.1,478.4 L999.5,476.7 L998.0,474.6 L996.7,471.8 L995.6,468.2 L994.8,464.4 L994.0,460.6 L993.5,457.4 L993.0,455.1Z"/></g>
<g id="wmC" transform="translate(0,450.0) scale(1,1.95) translate(0,-450.0)"><path d="M183.6,432.6 L184.1,432.6 L184.8,432.6 L185.7,432.6 L186.6,432.7 L187.4,432.8 L188.2,433.2 L188.9,433.7 L189.7,434.4 L190.5,435.2 L191.2,436.1 L191.6,437.0 L191.8,437.8 L191.6,438.6 L191.2,439.5 L190.5,440.4 L189.7,441.2 L188.9,441.9 L188.2,442.4 L187.4,442.8 L186.6,442.9 L185.7,443.0 L184.8,443.0 L184.1,443.0 L183.6,443.0Z"/><path d="M186.4,461.9 L187.0,461.9 L187.8,461.9 L188.8,461.9 L189.8,462.0 L190.8,462.2 L191.7,462.5 L192.5,463.1 L193.5,463.8 L194.4,464.7 L195.1,465.7 L195.7,466.6 L195.9,467.5 L195.7,468.4 L195.2,469.3 L194.4,470.2 L193.5,471.1 L192.5,471.9 L191.7,472.5 L190.8,472.8 L189.8,473.0 L188.8,473.1 L187.8,473.1 L187.0,473.1 L186.4,473.1Z"/><path d="M559.2,432.7 L559.8,432.7 L560.5,432.7 L561.5,432.7 L562.5,432.7 L563.4,432.9 L564.2,433.3 L565.1,433.8 L566.0,434.6 L566.8,435.4 L567.6,436.3 L568.1,437.2 L568.3,438.0 L568.1,438.9 L567.6,439.8 L566.8,440.7 L566.0,441.5 L565.1,442.2 L564.2,442.8 L563.4,443.1 L562.5,443.3 L561.5,443.4 L560.5,443.4 L559.8,443.4 L559.2,443.4Z"/><path d="M561.8,461.4 L562.4,461.4 L563.3,461.4 L564.4,461.4 L565.5,461.5 L566.6,461.7 L567.5,462.1 L568.5,462.7 L569.6,463.5 L570.6,464.5 L571.5,465.5 L572.1,466.5 L572.3,467.5 L572.1,468.4 L571.5,469.4 L570.6,470.5 L569.6,471.4 L568.5,472.2 L567.5,472.9 L566.6,473.3 L565.5,473.5 L564.4,473.5 L563.3,473.5 L562.4,473.5 L561.8,473.5Z"/><path d="M295.5,443.1 L300.2,458.5 L291.6,457.2Z"/><path d="M668.3,441.6 L668.1,443.2 L667.3,444.6 L666.2,445.7 L664.8,446.5 L663.3,446.7 L661.8,446.5 L660.4,445.7 L659.3,444.6 L658.5,443.2 L658.3,441.6 L658.5,440.0 L659.3,438.6 L660.4,437.4 L661.8,436.7 L663.3,436.5 L664.8,436.7 L666.2,437.4 L667.3,438.6 L668.1,440.0Z"/><path d="M923.6,426.2 L924.1,426.2 L924.8,426.2 L925.7,426.2 L926.6,426.2 L927.4,426.4 L928.2,426.8 L928.9,427.5 L929.7,428.3 L930.5,429.3 L931.2,430.4 L931.6,431.5 L931.8,432.5 L931.6,433.5 L931.2,434.6 L930.5,435.7 L929.7,436.7 L928.9,437.6 L928.2,438.2 L927.4,438.6 L926.6,438.8 L925.7,438.9 L924.8,438.8 L924.1,438.8 L923.6,438.8Z"/><path d="M1023.0,413.1 L1031.0,413.1 L1031.0,442.8 L1030.6,443.2 L1030.0,443.8 L1029.2,444.6 L1028.5,445.2 L1027.7,445.7 L1027.0,445.9 L1026.3,445.7 L1025.5,445.2 L1024.8,444.6 L1024.0,443.8 L1023.4,443.2 L1023.0,442.8Z"/></g>
<mask id="mD" maskUnits="userSpaceOnUse" x="0" y="0" width="1214" height="880"><use href="#wmL" fill="#fff" stroke="#fff" stroke-width="17.5" stroke-linejoin="miter" stroke-miterlimit="2.2"/><use href="#wmL" fill="#000" stroke="#000" stroke-width="9" stroke-linejoin="miter" stroke-miterlimit="2.2"/><use href="#wmL" fill="#fff" stroke="none"/><use href="#wmC" fill="#000" stroke="none"/><ellipse cx="854.5" cy="526.8" rx="19.6" ry="16.4" fill="#fff"/><ellipse cx="854.8" cy="527.3" rx="16" ry="12.8" fill="#000"/><ellipse cx="854.8" cy="527.3" rx="12.4" ry="9.2" fill="#fff"/></mask>
<mask id="mL" maskUnits="userSpaceOnUse" x="0" y="0" width="1214" height="880"><use href="#wmL" fill="#fff" stroke="#fff" stroke-width="9" stroke-linejoin="miter" stroke-miterlimit="2.2"/><use href="#wmL" fill="#000" stroke="none"/><use href="#wmC" fill="#fff" stroke="none"/><ellipse cx="854.8" cy="527.3" rx="16" ry="12.8" fill="#fff"/><ellipse cx="854.8" cy="527.3" rx="12.4" ry="9.2" fill="#000"/></mask></defs>
<rect width="1214" height="880" fill="#e3e3e3" mask="url(#mD)" style="mix-blend-mode:multiply"/>
<rect width="1214" height="880" fill="#ffffff" fill-opacity="0.05" mask="url(#mL)"/>
</svg></body></html>
